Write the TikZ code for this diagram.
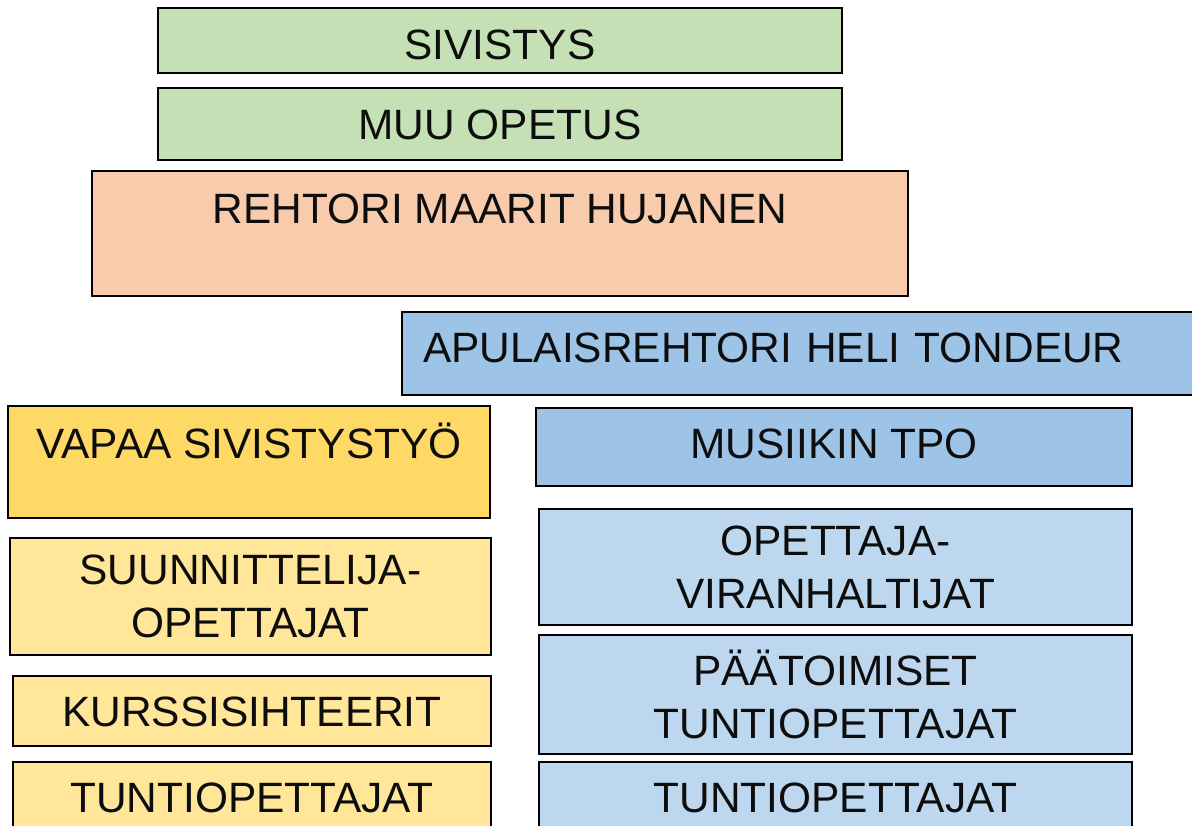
\documentclass[tikz,border=0pt]{standalone}
\usepackage{fontspec}
\setmainfont{Liberation Sans}
\usetikzlibrary{positioning}
\definecolor{sivgreen}{HTML}{C5E0B4}
\definecolor{rehpeach}{HTML}{F8CBAD}
\definecolor{apublue}{HTML}{9DC3E6}
\definecolor{tpoblue}{HTML}{BDD7EE}
\definecolor{vapgold}{HTML}{FFD966}
\definecolor{vapyellow}{HTML}{FFE699}
\tikzset{orgbox/.style={draw=black, line width=1.4pt, inner sep=0pt, align=center,
    text=black!95, font=\fontsize{21.2}{26.5}\selectfont},
  lift/.style={text height=15.2pt, text depth=#1}}
\begin{document}
\begin{tikzpicture}[x=0.5pt, y=-0.5pt]
  \useasboundingbox (0,0) rectangle (1192,825);
  % top of the organisation
  \node[orgbox, text height=18.7pt, text depth=0pt, fill=sivgreen, minimum width=342pt, minimum height=32.5pt] (sivistys) at (500,40.5) {SIVISTYS};
  \node[orgbox, lift=0pt, fill=sivgreen, minimum width=342pt, minimum height=36pt] (muu) at (500,124) {MUU OPETUS};
  \node[orgbox, lift=25.5pt, fill=rehpeach, minimum width=408pt, minimum height=62.5pt] (rehtori) at (500,233.5) {REHTORI MAARIT HUJANEN};
  \node[orgbox, lift=6.5pt, fill=apublue, align=left, inner xsep=10.5pt, text width=378pt, minimum height=41.5pt] (apulais) at (801,353.5) {APULAISREHTORI HELI TONDEUR};
  % vapaa sivistystyo
  \node[orgbox, lift=19pt, fill=vapgold, minimum width=241pt, minimum height=56pt] (vapaa) at (249,462) {VAPAA SIVISTYSTYÖ};
  \node[orgbox, fill=vapyellow, minimum width=240.5pt, minimum height=58.5pt] (suunn) at (250.5,596.5) {SUUNNITTELIJA-\\OPETTAJAT};
  \node[orgbox, lift=0pt, fill=vapyellow, minimum width=239pt, minimum height=35pt] (kurssi) at (252,711) {KURSSISIHTEERIT};
  \node[orgbox, lift=0pt, fill=vapyellow, minimum width=239pt, minimum height=35pt] (tuntiV) at (252,797) {TUNTIOPETTAJAT};
  % musiikin tpo
  \node[orgbox, lift=4pt, fill=apublue, minimum width=298pt, minimum height=39pt] (musiikki) at (834,447) {MUSIIKIN TPO};
  \node[orgbox, fill=tpoblue, minimum width=296.5pt, minimum height=58pt] (opvir) at (835.5,567) {OPETTAJA-\\VIRANHALTIJAT};
  \node[orgbox, fill=tpoblue, minimum width=296.5pt, minimum height=59.5pt] (paatoim) at (835.5,694.5) {PÄÄTOIMISET\\TUNTIOPETTAJAT};
  \node[orgbox, lift=0pt, fill=tpoblue, minimum width=296.5pt, minimum height=35pt] (tuntiM) at (835.5,797) {TUNTIOPETTAJAT};
\end{tikzpicture}
\end{document}
